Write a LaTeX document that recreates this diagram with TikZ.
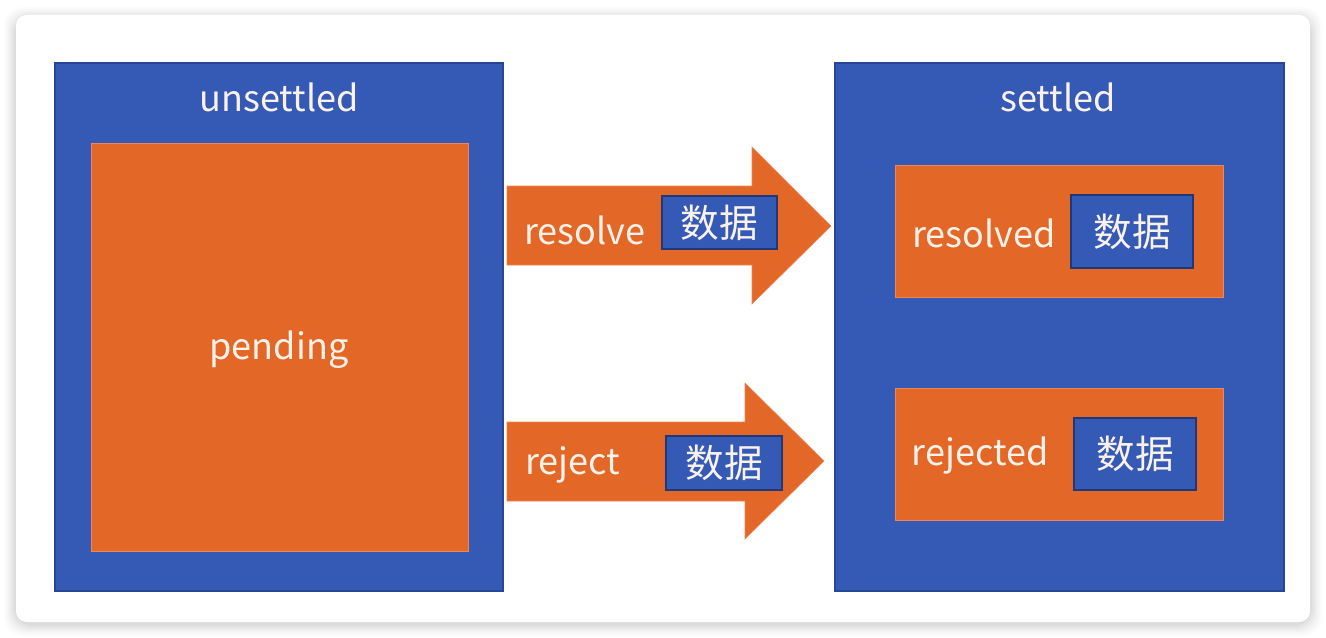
\documentclass[tikz,border=0pt]{standalone}
\usepackage{fontspec}
\setmainfont{Noto Sans CJK SC}
\definecolor{pblue}{RGB}{53,90,181}
\definecolor{pblueline}{RGB}{40,70,150}
\definecolor{porange}{RGB}{227,103,39}
\definecolor{porangeline}{RGB}{236,135,90}
\definecolor{ptext}{RGB}{250,242,234}
\definecolor{shadowc}{RGB}{120,120,120}
\tikzset{
  bluebox/.style={draw=pblueline, line width=0.8pt, fill=pblue, inner sep=0pt},
  orangebox/.style={draw=porangeline, line width=0.5pt, fill=porange, inner sep=0pt},
  databox/.style={draw=pblueline!80!black, line width=0.9pt, fill=pblue, inner sep=0pt, text=ptext, font=\fontsize{29}{32}\selectfont},
  lbl/.style={text=ptext, inner sep=0pt, font=\fontsize{27}{30}\selectfont},
  arrowshape/.style={fill=porange, draw=porangeline, line width=0.4pt}
}
\begin{document}
\begin{tikzpicture}[x=0.75pt,y=-0.75pt]
\useasboundingbox (0,0) rectangle (1326,638);
\fill[white] (0,0) rectangle (1326,638);
% shadow of card
\foreach \i/\o in {12/0.02,10/0.03,8/0.04,6/0.05,4/0.06,2/0.07} {
  \fill[shadowc, opacity=\o, rounded corners=14pt] (16-\i,17-\i+2) rectangle (1310+\i,622+\i+2);
}
\fill[white, rounded corners=8pt] (16,15) rectangle (1310,622);

% left container
\node[bluebox, minimum width=336pt, minimum height=396pt] (unsettled) at (279,327) {};
\node[lbl] (unsettledlbl) at (279,97) {unsettled};
\node[orangebox, minimum width=282.75pt, minimum height=306pt] (pending) at (279.5,347) {};
\node[lbl] (pendinglbl) at (279,350) {pending};

% right container
\node[bluebox, minimum width=336.75pt, minimum height=396pt] (settled) at (1059.5,327) {};
\node[lbl] (settledlbl) at (1058,97) {settled};

\node[orangebox, minimum width=246pt, minimum height=99pt] (resolved) at (1059,231) {};
\node[lbl] (resolvedlbl) at (984,233) {resolved};
\node[databox, minimum width=91.5pt, minimum height=54.75pt] (rdata) at (1132,231.5) {数据};

\node[orangebox, minimum width=246pt, minimum height=99pt] (rejected) at (1059,454) {};
\node[lbl] (rejectedlbl) at (980,456) {rejected};
\node[databox, minimum width=91.5pt, minimum height=54pt] (jdata) at (1135,454) {数据};

% arrows
\draw[arrowshape] (507,186) -- (752,186) -- (752,147) -- (831,226) -- (752,304) -- (752,265) -- (507,265) -- cycle;
\node[lbl] (resolvelbl) at (584.5,230) {resolve};
\node[databox, minimum width=86.25pt, minimum height=39.75pt] (adata1) at (719.5,222.5) {数据};

\draw[arrowshape] (507,422) -- (745,422) -- (745,383) -- (824,461) -- (745,539) -- (745,501) -- (507,501) -- cycle;
\node[lbl] (rejectlbl) at (572.5,465) {reject};
\node[databox, minimum width=87pt, minimum height=40.5pt] (adata2) at (724,463) {数据};
\end{tikzpicture}
\end{document}
